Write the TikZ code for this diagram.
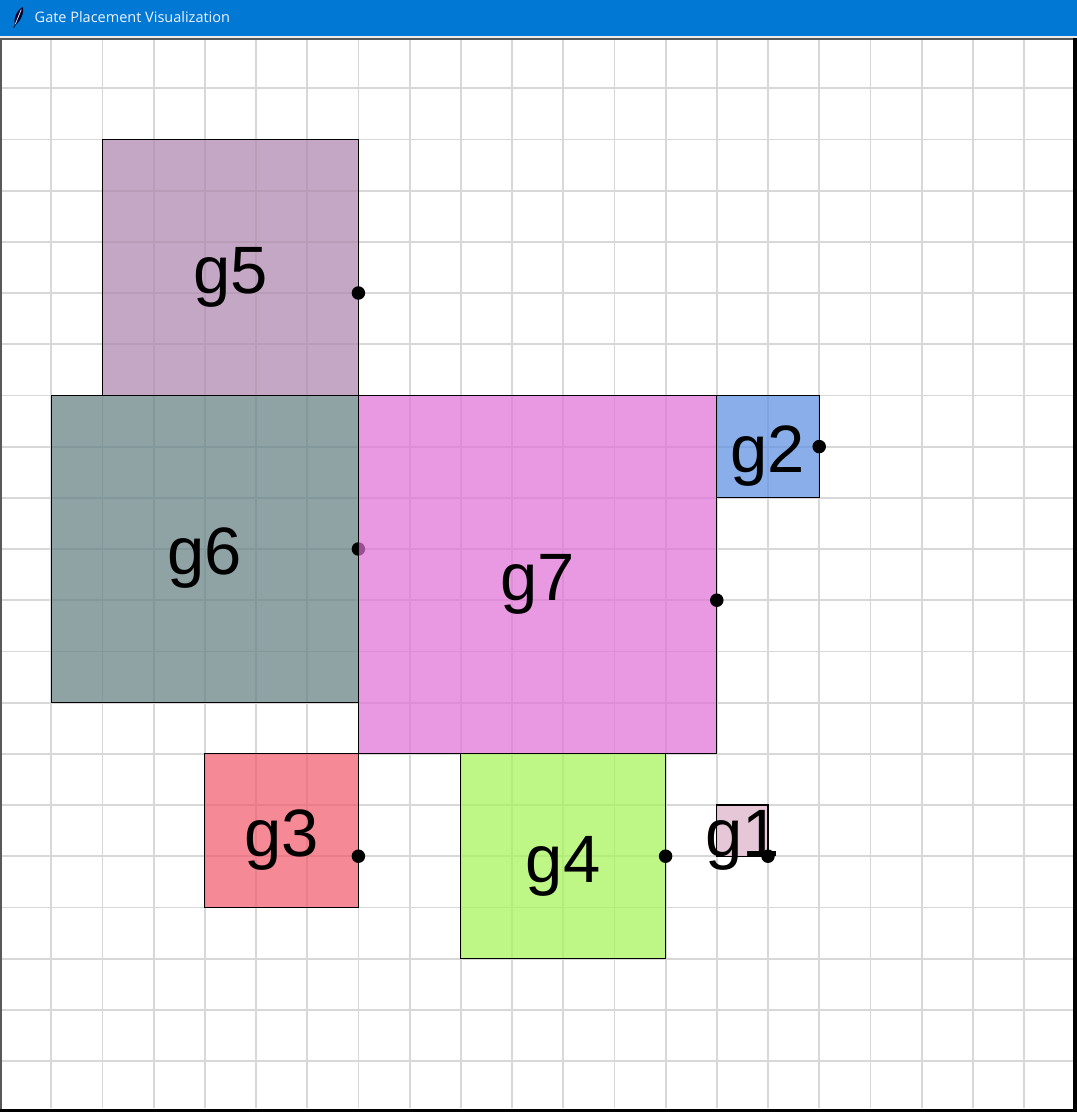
\documentclass[tikz,border=0pt]{standalone}
\usepackage{fontspec}
\setmainfont{Liberation Sans}
\newfontfamily\titlefont{Open Sans}
\definecolor{titleblue}{RGB}{0,120,212}
\definecolor{gridgray}{RGB}{216,216,216}
\definecolor{cg1}{RGB}{218,176,199}
\definecolor{cg2}{RGB}{88,141,225}
\definecolor{cg3}{RGB}{241,88,105}
\definecolor{cg4}{RGB}{165,245,85}
\definecolor{cg5}{RGB}{171,131,171}
\definecolor{cg6}{RGB}{96,125,128}
\definecolor{cg7}{RGB}{225,111,215}
\tikzset{
  gridline/.style={draw=gridgray, line width=1.8pt},
  gate/.style={draw=black, line width=1.1pt, fill opacity=0.7,
    inner sep=0pt, outer sep=0pt},
  gatelabel/.style={inner sep=0pt, yshift=-3pt,
    font=\fontsize{67}{70}\selectfont, text height=59.7pt, text depth=14pt},
  gatedot/.style={circle, fill=black, inner sep=0pt, minimum size=13.5pt},
}
\begin{document}
\begin{tikzpicture}[x=1pt,y=-1pt]
\useasboundingbox (0,0) rectangle (1077,1112);
\fill[white] (0,0) rectangle (1077,1112);
% grid
\foreach \i in {1,...,20} {
  \draw[gridline] (\i*51.2,40) -- (\i*51.2,1108);
  \draw[gridline] (0,37+\i*51.2) -- (1073,37+\i*51.2);
}
% gates
\begin{scope}[shift={(0pt,-37pt)}, x=51.2pt, y=-51.2pt]
  \node[gate, fill=cg1, minimum width=51.2pt, minimum height=51.2pt] (g1) at (14.5,15.5) {};
  \node[gatelabel] (l1) at (g1.center) {g1};
  \node[gate, fill=cg2, minimum width=102.4pt, minimum height=102.4pt] (g2) at (15,8) {};
  \node[gatelabel] (l2) at (g2.center) {g2};
  \node[gate, fill=cg3, minimum width=153.6pt, minimum height=153.6pt] (g3) at (5.5,15.5) {};
  \node[gatelabel] (l3) at (g3.center) {g3};
  \node[gate, fill=cg4, minimum width=204.8pt, minimum height=204.8pt] (g4) at (11,16) {};
  \node[gatelabel] (l4) at (g4.center) {g4};
  \node[gate, fill=cg5, minimum width=256pt, minimum height=256pt] (g5) at (4.5,4.5) {};
  \node[gatelabel] (l5) at (g5.center) {g5};
  \node[gatedot] (d5) at (7,5) {};
  \node[gate, fill=cg6, minimum width=307.2pt, minimum height=307.2pt] (g6) at (4,10) {};
  \node[gatelabel] (l6) at (g6.center) {g6};
  \node[gatedot] (d6) at (7,10) {};
  \node[gate, fill=cg7, minimum width=358.4pt, minimum height=358.4pt] (g7) at (10.5,10.5) {};
  \node[gatelabel] (l7) at (g7.center) {g7};
  \node[gatedot] (d7) at (14,11) {};
  \node[gatedot] (d2) at (16,8) {};
  \node[gatedot] (d3) at (7,16) {};
  \node[gatedot] (d4) at (13,16) {};
  \node[gatedot] (d1) at (15,16) {};
\end{scope}
% window frame
\fill[titleblue] (0,0) rectangle (1077,36);
\fill[gray!15] (0,36) rectangle (1077,37.7);
\fill[black!65] (0,37.7) rectangle (1077,40);
\fill[black!65] (0,37.7) rectangle (2.2,1112);
\fill[black] (1073,37.7) rectangle (1077,1112);
\fill[black] (0,1108.5) rectangle (1077,1112);
% title icon (feather)
\fill[black!85!blue] (22.5,7) .. controls (25,12) and (20,22) .. (15,25.5) .. controls (13,20) and (16,11) .. (22.5,7) -- cycle;
\draw[white!85!blue, line width=0.8pt] (21.3,9.5) .. controls (19,15) and (17,20) .. (15.4,24);
\draw[black!85, line width=1pt] (15.2,25) -- (13.6,28);
\node[font=\titlefont\fontsize{14.5}{16}\selectfont, text=white!95!blue, anchor=west, inner sep=0pt] (title) at (34.5,17.5) {Gate Placement Visualization};
\end{tikzpicture}
\end{document}
